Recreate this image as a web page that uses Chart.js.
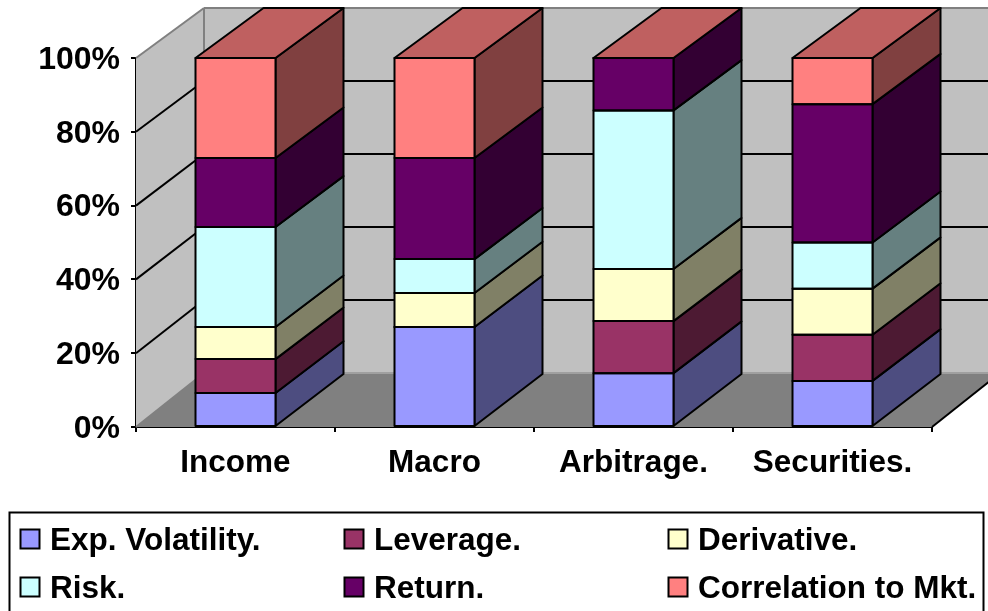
<!DOCTYPE html>
<html><head><meta charset="utf-8">
<style>html,body{margin:0;padding:0;background:#fff}#w{width:988px;height:611px;position:relative;overflow:hidden}</style>
<script src="https://cdn.jsdelivr.net/npm/chart.js@4/dist/chart.umd.js"></script>
</head><body><div id="w"><canvas id="c" width="988" height="611"></canvas></div>
<script>
const categories = ["Income", "Macro", "Arbitrage.", "Securities."];
const expVolatility = [9.2, 27.1, 14.6, 12.5];
const leverage = [9.2, 0, 14.1, 12.5];
const derivative = [8.7, 9.2, 14.1, 12.5];
const risk = [27.1, 9.2, 43.0, 12.5];
const returns = [18.7, 27.4, 14.2, 37.5];
const correlation = [27.1, 27.1, 0, 12.5];
const seriesNames = ["Exp. Volatility.", "Leverage.", "Derivative.", "Risk.", "Return.", "Correlation to Mkt."];
const seriesColors = ["#9999ff", "#993366", "#ffffcc", "#ccffff", "#660066", "#ff8080"];
const seriesValues = [expVolatility, leverage, derivative, risk, returns, correlation];
const tickValues = [0, 20, 40, 60, 80, 100];

const FAMILY = '"Liberation Sans", Arial, sans-serif';
const DX = 68;
function shade(hex, f) {
  const n = parseInt(hex.slice(1), 16);
  const c = [n >> 16 & 255, n >> 8 & 255, n & 255].map(v => Math.round(v * f));
  return `rgb(${c[0]},${c[1]},${c[2]})`;
}
function poly(ctx, pts, fill, stroke, lw) {
  ctx.beginPath();
  pts.forEach((p, i) => i ? ctx.lineTo(p[0], p[1]) : ctx.moveTo(p[0], p[1]));
  ctx.closePath();
  if (fill) { ctx.fillStyle = fill; ctx.fill(); }
  if (stroke) { ctx.strokeStyle = stroke; ctx.lineWidth = lw; ctx.lineJoin = 'round'; ctx.stroke(); }
}
function line(ctx, x1, y1, x2, y2, col, lw) {
  ctx.beginPath(); ctx.moveTo(x1, y1); ctx.lineTo(x2, y2);
  ctx.strokeStyle = col; ctx.lineWidth = lw; ctx.stroke();
}
const scene3d = {
  id: 'scene3d',
  beforeDatasetsDraw(chart) {
    const { ctx, chartArea: a, scales: { y } } = chart;
    const y0 = y.getPixelForValue(0), y1 = y.getPixelForValue(100);
    const wallY = p => 373 + (p - y0) * (365 / (y0 - y1));
    const L = a.left, R = a.right, wx = L + DX, rx = R + DX;
    ctx.save();
    poly(ctx, [[L, y0], [wx, wallY(y0)], [wx, wallY(y1)], [L, y1]], '#c0c0c0');
    poly(ctx, [[wx, wallY(y0)], [rx, wallY(y0)], [rx, wallY(y1)], [wx, wallY(y1)]], '#c0c0c0');
    poly(ctx, [[L, y0], [wx, wallY(y0)], [rx, wallY(y0)], [R, y0]], '#808080');
    tickValues.forEach(v => {
      const p = y.getPixelForValue(v), wy = wallY(p);
      const col = (v === 100 || v === 0) ? '#808080' : '#000';
      line(ctx, L, p, wx, wy, col, 2);
      line(ctx, wx, wy, rx, wy, v === 0 ? '#a0a0a0' : col, 2);
    });
    line(ctx, wx, wallY(y0), wx, wallY(y1), '#808080', 2);
    line(ctx, R, y0, rx, wallY(y0), '#000', 2);
    const n = chart.data.datasets.length;
    const bx = p => 375 + (p - y0) * (367 / (y0 - y1));
    chart.data.datasets.forEach((ds, di) => {
      chart.getDatasetMeta(di).data.forEach(bar => {
        const r = bar.x + bar.width / 2;
        if (Math.abs(bar.base - bar.y) > 0.5)
          poly(ctx, [[r, bar.base], [r + DX, bx(bar.base)], [r + DX, bx(bar.y)], [r, bar.y]], shade(ds.backgroundColor, 0.5), '#000', 2);
        if (di === n - 1) {
          const l = bar.x - bar.width / 2;
          poly(ctx, [[l, bar.y], [l + DX, bx(bar.y)], [r + DX, bx(bar.y)], [r, bar.y]], shade(ds.backgroundColor, 0.75), '#000', 2);
        }
      });
    });
    ctx.restore();
  },
  afterDatasetsDraw(chart) {
    const { ctx } = chart;
    ctx.save();
    ctx.strokeStyle = '#000'; ctx.lineWidth = 2; ctx.lineJoin = 'round';
    chart.data.datasets.forEach((ds, di) => {
      chart.getDatasetMeta(di).data.forEach(bar => {
        ctx.strokeRect(bar.x - bar.width / 2, bar.y, bar.width, bar.base - bar.y);
      });
    });
    ctx.restore();
  },
  afterDraw(chart) {
    const { ctx } = chart;
    ctx.save();
    ctx.strokeStyle = '#000'; ctx.lineWidth = 2;
    ctx.strokeRect(9.5, 512.5, 974, 110);
    const cols = [20.5, 344.5, 668.5], rows = [529.5, 577.5];
    ctx.font = `bold 31.5px ${FAMILY}`; ctx.textAlign = 'left'; ctx.textBaseline = 'alphabetic';
    chart.data.datasets.forEach((ds, i) => {
      const x = cols[i % 3], y = rows[Math.floor(i / 3)];
      ctx.fillStyle = ds.backgroundColor;
      ctx.fillRect(x, y, 19, 19);
      ctx.strokeRect(x, y, 19, 19);
      ctx.fillStyle = '#000';
      ctx.fillText(ds.label, x + 29.5, y + 20.5);
    });
    ctx.restore();
  }
};
// nudge the y tick labels so the digits sit centred on their tick marks
function nudgeLabels(s) {
  if (s.__nudged) return;
  s.__nudged = true;
  const orig = s._computeLabelItems;
  s._computeLabelItems = function (area) {
    return orig.call(s, area).map(it => ({
      ...it,
      options: { ...it.options, translation: [it.options.translation[0], it.options.translation[1] + 2] }
    }));
  };
  s._labelItems = null;
}
Chart.defaults.animation = false;
new Chart(document.getElementById('c'), {
  type: 'bar',
  data: {
    labels: categories,
    datasets: seriesNames.map((name, i) => ({
      label: name,
      data: seriesValues[i],
      backgroundColor: seriesColors[i],
      borderWidth: 0,
      barPercentage: 0.402,
      categoryPercentage: 1
    }))
  },
  plugins: [scene3d],
  options: {
    responsive: false,
    animation: false,
    layout: { padding: { top: 58, right: 56, left: 0, bottom: 0 } },
    plugins: { legend: { display: false }, tooltip: { enabled: false }, title: { display: false } },
    scales: {
      x: {
        stacked: true,
        afterFit(s) { s.height = 184; },
        grid: { drawOnChartArea: false, drawTicks: true, tickLength: 5, color: '#000', lineWidth: 2 },
        border: { color: '#000', width: 2 },
        ticks: { color: '#000', font: { family: FAMILY, size: 31.5, weight: 'bold' }, padding: 12, maxRotation: 0, autoSkip: false }
      },
      y: {
        stacked: true,
        min: 0, max: 100,
        afterFit(s) { s.width = 136; },
        afterUpdate: nudgeLabels,
        afterBuildTicks(s) { s.ticks = tickValues.map(v => ({ value: v })); },
        grid: { drawOnChartArea: false, drawTicks: true, tickLength: 5, color: '#000', lineWidth: 2 },
        border: { color: '#000', width: 2 },
        ticks: { color: '#000', font: { family: FAMILY, size: 32, weight: 'bold' }, padding: 11, callback: v => v + '%' }
      }
    }
  }
});
</script></body></html>
